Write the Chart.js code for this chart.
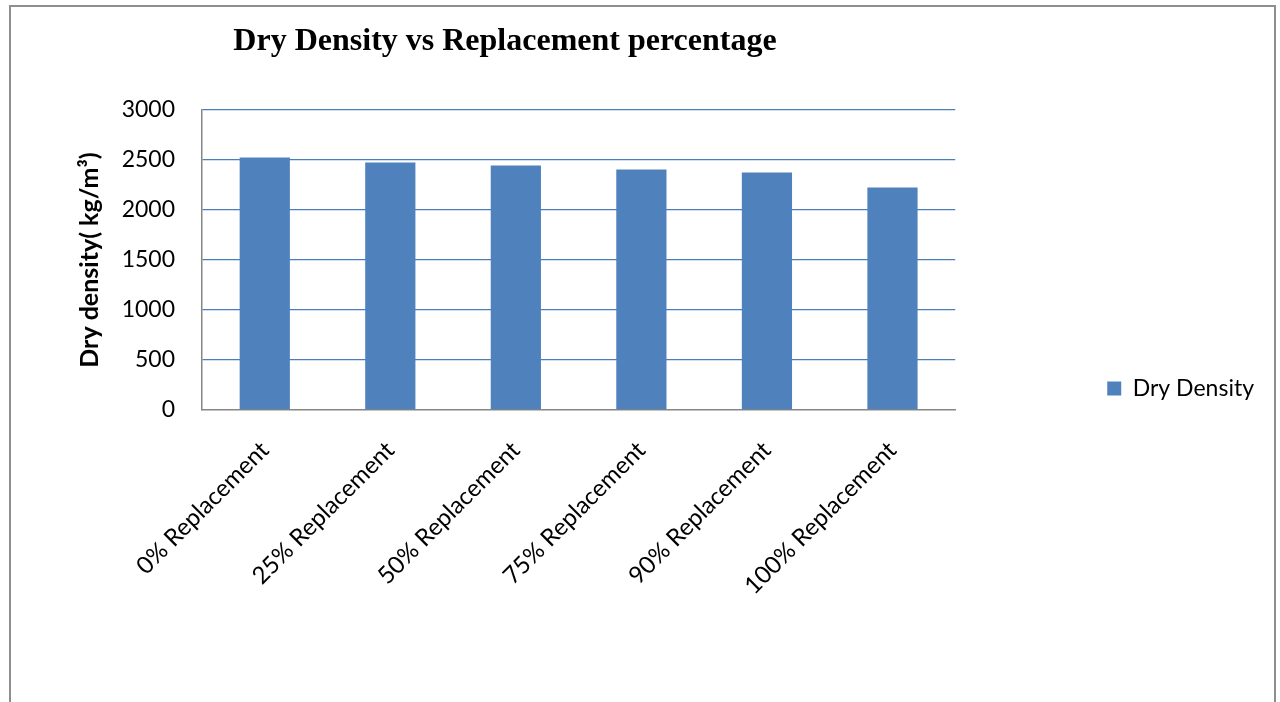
<!DOCTYPE html>
<html lang="en">
<head>
<meta charset="UTF-8">
<title>Dry Density vs Replacement percentage</title>
<script src="https://cdn.jsdelivr.net/npm/chart.js"></script>
<style>
	html, body { margin: 0; padding: 0; background: #fff; overflow: hidden; }
	.wrap { position: relative; width: 1280px; height: 702px; }
	.frame {
		position: absolute; left: 9px; top: 5px; width: 1267px; height: 800px;
		border: 2px solid #8e8e8e; box-sizing: border-box;
	}
	canvas { position: absolute; left: 0; top: 0; }
</style>
</head>
<body>
<div class="wrap">
	<div class="frame"></div>
	<canvas id="chart" width="1280" height="702"></canvas>
</div>

<script>
	// data
	const categories = ['0% Replacement', '25% Replacement', '50% Replacement', '75% Replacement', '90% Replacement', '100% Replacement'];
	const dryDensity = [2525, 2475, 2445, 2405, 2375, 2225];
	const seriesName = 'Dry Density';
	const chartTitle = 'Dry Density vs Replacement percentage';
	const yTitle = 'Dry density( kg/m\u00B3)';
	const yMin = 0, yMax = 3000, yStep = 500;

	const barBlue = '#4F81BD';
	const gridBlue = '#4A7EBB';
	const axisGray = '#868686';

	// title is drawn off-center like the original, so a small plugin does it
	const titlePlugin = {
		id: 'offTitle',
		afterDraw(chart) {
			const ctx = chart.ctx;
			ctx.save();
			ctx.font = 'bold 32px "Liberation Serif", "Times New Roman", serif';
			ctx.fillStyle = '#000';
			ctx.textAlign = 'center';
			ctx.textBaseline = 'middle';
			ctx.fillText(chartTitle, 505, 42);
			ctx.restore();
		}
	};

	const ctx = document.getElementById('chart').getContext('2d');
	const chart = new Chart(ctx, {
		type: 'bar',
		data: {
			labels: categories,
			datasets: [{
				label: seriesName,
				data: dryDensity,
				backgroundColor: barBlue,
				borderWidth: 0,
				categoryPercentage: 1,
				barPercentage: 0.4
			}]
		},
		options: {
			responsive: false,
			animation: false,
			layout: { padding: { top: 110, left: 0, right: 16, bottom: 0 } },
			scales: {
				x: {
					afterFit: (s) => { s.height = 292; },
					grid: { display: false },
					border: { display: true, color: axisGray, width: 1.5 },
					ticks: {
						autoSkip: false,
						minRotation: 45,
						maxRotation: 45,
						padding: 18,
						color: '#000',
						font: { family: 'Lato', size: 24 }
					}
				},
				y: {
					min: yMin,
					max: yMax,
					afterFit: (s) => { s.width = 202; },
					grid: {
						drawTicks: false,
						color: (c) => c.tick && c.tick.value === 0 ? 'rgba(0,0,0,0)' : gridBlue,
						lineWidth: 1.3
					},
					border: { display: true, color: axisGray, width: 1.5 },
					ticks: {
						stepSize: yStep,
						padding: 27,
						color: '#000',
						font: { family: 'Lato', size: 23 },
						callback: (v) => String(v)
					},
					title: {
						display: true,
						text: yTitle,
						color: '#000',
						padding: { top: 75, bottom: 0 },
						font: { family: 'Lato', size: 25, weight: 'bold' }
					}
				},
				// empty spacer between the plot and the legend
				gap: {
					position: 'right',
					display: true,
					afterFit: (s) => { s.width = 142; },
					ticks: { display: false },
					grid: { display: false },
					border: { display: false }
				}
			},
			plugins: {
				title: { display: false },
				tooltip: { enabled: false },
				legend: {
					position: 'right',
					fullSize: false,
					align: 'end',
					labels: {
						boxWidth: 14,
						boxHeight: 14,
						padding: 10,
						color: '#000',
						font: { family: 'Lato', size: 23 }
					}
				}
			}
		},
		plugins: [titlePlugin]
	});
</script>
</body>
</html>
